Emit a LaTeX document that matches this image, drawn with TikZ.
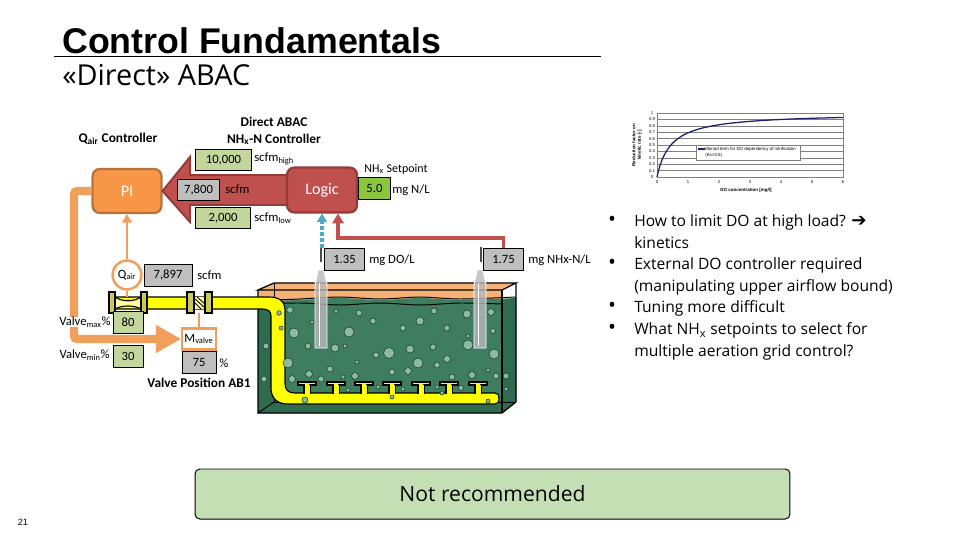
\documentclass[tikz,border=0pt]{standalone}
\usepackage{fontspec}
\setmainfont{Carlito}
\newfontfamily\titlefont{Liberation Sans}
\newfontfamily\bodyfont{Open Sans}
\newfontfamily\symfont{DejaVu Sans}
\usetikzlibrary{arrows.meta}

\definecolor{boxgreen}{HTML}{C3D69B}
\definecolor{boxgray}{HTML}{BFBFBF}
\definecolor{setgreen}{HTML}{8CC63F}
\definecolor{pibrown}{HTML}{B5733C}
\definecolor{piorange}{HTML}{F79646}
\definecolor{lineorange}{HTML}{F0A05A}
\definecolor{logicred}{HTML}{C0504D}
\definecolor{logicdark}{HTML}{933B39}
\definecolor{probeblue}{HTML}{4BACC6}
\definecolor{pipeyellow}{HTML}{FFFF00}
\definecolor{flangeolive}{HTML}{C9C95A}
\definecolor{airorange}{HTML}{F6B276}
\definecolor{waterdark}{HTML}{2F6B4F}
\definecolor{water}{HTML}{3F7D60}
\definecolor{bubble}{HTML}{8DB9A6}
\definecolor{notegreen}{HTML}{C5DFB5}
\definecolor{curvenavy}{HTML}{1F1F6B}

\tikzset{
  valuebox/.style={draw=black, line width=0.6pt, inner sep=0pt, minimum height=0.53cm, font=\fontsize{9}{11}\selectfont},
  greenbox/.style={valuebox, fill=boxgreen},
  graybox/.style={valuebox, fill=boxgray},
  unitlabel/.style={anchor=west, inner sep=0pt, font=\fontsize{9}{11}\selectfont},
  headlabel/.style={inner sep=0pt, font=\bfseries\fontsize{9.5}{11}\selectfont},
  ctrlbox/.style={rounded corners=0.18cm, line width=1.6pt, text=white, font=\fontsize{11.5}{13}\selectfont},
  bulletdot/.style={inner sep=0pt, font=\bodyfont\fontsize{15}{15}\selectfont},
  bullettext/.style={anchor=north west, inner sep=0pt, align=left, font=\bodyfont\fontsize{11.1}{15.3}\selectfont},
  pipeline/.style={draw=black, line width=0.8pt},
  chartsmall/.style={inner sep=0pt, font=\titlefont\fontsize{3}{3.6}\selectfont},
  tooth/.pic={
    \draw[fill=pipeyellow, line width=0.8pt] (-3,1) -- (-3,-8) -- (-9,-8) -- (-9,-11) -- (9,-11) -- (9,-8) -- (3,-8) -- (3,1);
    \fill[pipeyellow] (-2.5,2) rectangle (2.5,-8.5);
  }
}

\begin{document}
\begin{tikzpicture}[x=0.025cm, y=-0.025cm]
\useasboundingbox (0,0) rectangle (960,540);

% Title
\node[anchor=base west, inner sep=0pt, font=\titlefont\bfseries\fontsize{25.4}{28}\selectfont] (title) at (62,53) {Control Fundamentals};
\draw[line width=0.6pt] (54,56) -- (601,56);
\node[anchor=base west, inner sep=0pt, font=\bodyfont\fontsize{20.5}{23}\selectfont] (subtitle) at (62,85) {«Direct» ABAC};

% Tank
\fill[airorange] (258,290) -- (274,283) -- (516,283) -- (502,290) -- (502,305) -- (258,305) -- cycle;
\fill[water] (258,301) -- plot[smooth] coordinates {(258,301) (300,300) (340,298) (380,300) (420,298) (460,300) (516,298)} -- (516,402) -- (502,413) -- (258,413) -- cycle;
\fill[waterdark] (258,301) -- (274,300) -- (274,402) -- (258,413) -- cycle;
\fill[waterdark] (502,300) -- (516,298) -- (516,402) -- (502,413) -- cycle;
\fill[waterdark] (258,413) -- (274,402) -- (516,402) -- (502,413) -- cycle;
\draw[line width=0.7pt] plot[smooth] coordinates {(258,304) (300,303) (340,305) (380,303) (420,305) (460,303) (502,304)};
\draw[line width=0.7pt] plot[smooth] coordinates {(274,300) (300,299) (340,297) (380,299) (420,297) (460,299) (516,297)};
\draw[line width=0.9pt] (258,290) -- (274,283) -- (516,283) -- (502,290) -- cycle;
\draw[line width=0.9pt] (258,290) -- (258,413) -- (502,413) -- (516,402) -- (516,283);
\draw[line width=0.9pt] (502,290) -- (502,413);
\draw[line width=0.7pt] (274,283) -- (274,402) -- (516,402);
\draw[line width=0.7pt] (258,413) -- (274,402);

% Air pipe with grid
\draw[pipeline, fill=pipeyellow] (110,297) -- (270,297) .. controls (276,297) and (285,299) .. (285,310) -- (285,383) .. controls (285,390) and (288,393) .. (295,393) -- (495,393) .. controls (498,393) and (499,395) .. (499,398) .. controls (499,402) and (498,404) .. (495,404) -- (288,404) .. controls (277,404) and (271,398) .. (271,388) -- (271,316) .. controls (271,311) and (268,309) .. (262,309) -- (110,309) -- cycle;
\pic at (307,393) {tooth};
\pic at (336,393) {tooth};
\pic at (364,393) {tooth};
\pic at (392,393) {tooth};
\pic at (421,393) {tooth};
\pic at (449,393) {tooth};
\pic at (478,393) {tooth};

% Bubbles
\draw[fill=bubble, draw=waterdark!60!black, line width=0.4pt]
  (290,310) circle (3.3) (279,313) circle (2.3) (281,328) circle (2) (294,333) circle (5)
  (312,322) circle (2) (336,311) circle (2) (359,313) circle (3) (373,321) circle (3)
  (349,332) circle (5) (403,328) circle (3) (420,321) circle (4) (434,311) circle (3)
  (447,328) circle (3) (467,314) circle (4) (491,312) circle (3.5) (493,331) circle (2.5)
  (468,336) circle (2) (468,345) circle (5) (494,354) circle (5) (433,347) circle (3)
  (410,349) circle (4) (389,353) circle (5.5) (376,355) circle (3) (335,348) circle (4)
  (345,346) circle (2) (308,346) circle (3) (266,346) circle (3) (288,363) circle (5)
  (357,362) circle (2) (418,363) circle (5) (447,359) circle (3.5) (437,365) circle (3)
  (330,369) circle (3) (408,371) circle (3.5) (392,372) circle (3) (488,370) circle (2)
  (309,374) circle (3.5) (355,376) circle (3.5) (343,377) circle (2) (321,379) circle (3)
  (292,379) circle (3.5) (264,379) circle (3) (378,387) circle (2) (348,390) circle (2)
  (403,389) circle (2) (452,377) circle (3) (472,375) circle (3.5) (496,376) circle (3)
  (506,376) circle (3) (461,388) circle (2.5) (437,387) circle (2) (506,389) circle (2)
  (442,393) circle (2) (305,400) circle (3) (392,397) circle (2) (488,401) circle (2);

% Probes
\draw[draw=white, fill=gray!55, fill opacity=0.8, line width=0.7pt] (315,348) -- (315,285) -- (318,270) -- (324,270) -- (327,285) -- (327,348) -- cycle;
\draw[white, line width=0.7pt] (319,283) -- (319,346);
\fill[black!70] (320,248) rectangle (322,262);
\draw[draw=white, fill=gray!55, fill opacity=0.8, line width=0.7pt] (474,348) -- (474,285) -- (477,270) -- (483,270) -- (486,285) -- (486,348) -- cycle;
\draw[white, line width=0.7pt] (478,283) -- (478,346);
\fill[black!70] (480,247) rectangle (482,262);
\coordinate (probeA) at (322,248);

% Valves
\fill[pipeyellow!35] (115,297) .. controls (122,303) and (134,303) .. (141,297) -- (141,309) .. controls (134,304) and (122,304) .. (115,309) -- cycle;
\draw[line width=0.8pt] (115,297) .. controls (122,302) and (134,302) .. (141,297);
\draw[line width=0.8pt] (115,309) .. controls (122,305) and (134,305) .. (141,309);
\fill[pipeyellow!35] (194,297) rectangle (205,309);
\draw[line width=0.6pt] (194,298) -- (205,308) (197,297) -- (205,304) (194,302) -- (201,309);
\draw[draw=black, fill=flangeolive, line width=0.8pt] (109,292) rectangle (115,313);
\draw[draw=black, fill=flangeolive, line width=0.8pt] (141,292) rectangle (147,313);
\draw[draw=black, fill=flangeolive, line width=0.8pt] (187,292) rectangle (194,313);
\draw[draw=black, fill=flangeolive, line width=0.8pt] (205,292) rectangle (212,313);

% PI and Logic
\node[ctrlbox, draw=pibrown, fill=piorange, minimum width=1.72cm, minimum height=1.1cm] (pi) at (127,191) {PI};
\coordinate (logicedge) at (300,190);
\draw[draw=logicdark, fill=logicred, line width=1.4pt] (logicedge) ++(0,-15) -- (190,175) -- (190,157) -- (pi.east) -- (190,222) -- (190,205) -- (300,205) -- cycle;
\node[ctrlbox, draw=logicdark, fill=logicred, minimum width=1.75cm, minimum height=1.12cm] (logic) at (322,190) {Logic};

% Flow limits
\node[greenbox, minimum width=1.38cm] (flowhigh) at (223.5,160) {10,000};
\node[graybox, minimum width=1.07cm] (flownow) at (198.5,190) {7,800};
\node[greenbox, minimum width=1.38cm] (flowlow) at (223,218) {2,000};
\node[unitlabel] (unithigh) at (254,159) {scfm\textsubscript{high}};
\node[unitlabel] (unitnow) at (225,189) {scfm};
\node[unitlabel] (unitlow) at (254,218) {scfm\textsubscript{low}};
\node[headlabel] (headqair) at (118,139) {Q\textsubscript{air} Controller};
\node[headlabel, align=center, font=\bfseries\fontsize{9.5}{12}\selectfont] (headabac) at (274,131) {Direct ABAC\\NH\textsubscript{x}-N Controller};

% Setpoint
\node[headlabel, font=\fontsize{8.5}{10}\selectfont] (headset) at (396,169) {NH\textsubscript{x} Setpoint};
\node[valuebox, fill=setgreen, minimum width=0.78cm] (setpoint) at (374.5,188.5) {5.0};
\node[unitlabel] (unitset) at (392,190) {mg N/L};

% Air flow measurement and valve
\node[circle, draw=lineorange, fill=white, line width=1.8pt, minimum size=0.72cm, inner sep=0pt, font=\fontsize{9}{11}\selectfont] (qair) at (127,275) {Q\textsubscript{air}};
\draw[lineorange, line width=1.6pt, -{Triangle[length=6pt,width=7pt]}] (qair.north) -- (pi.south);
\draw[lineorange, line width=1.6pt] (qair.south) -- (127,297);
\node[graybox, minimum width=1.2cm, minimum height=0.55cm] (flowmeas) at (168,275) {7,897};
\node[unitlabel] (unitmeas) at (197,275) {scfm};
\node[greenbox, minimum width=0.75cm] (valvemax) at (128,322.5) {80};
\node[greenbox, minimum width=0.75cm] (valvemin) at (128,356.5) {30};
\node[draw=lineorange, fill=white, line width=1.6pt, minimum width=0.84cm, minimum height=0.52cm, inner sep=0pt, font=\fontsize{9}{11}\selectfont] (mvalve) at (199,339) {M\textsubscript{valve}};
\draw[lineorange, line width=1.6pt] (mvalve.north) -- (199,313);
\node[graybox, minimum width=0.85cm, minimum height=0.55cm] (valvepos) at (199,362) {75};
\node[unitlabel] (unitpos) at (219,363) {\%};
\node[headlabel] (headvalve) at (199,383) {Valve Position AB1};
\draw[lineorange, line width=5.7pt, rounded corners=2pt, -{Triangle[length=18pt,width=19pt]}] (pi.west) -- (74,191) -- (74,339) -- (mvalve.west);
\node[anchor=east, fill=white, inner sep=0pt, font=\fontsize{9}{11}\selectfont] (labelmax) at (111,322) {Valve\textsubscript{max}\%};
\node[anchor=east, inner sep=0pt, font=\fontsize{9}{11}\selectfont] (labelmin) at (110,355) {Valve\textsubscript{min}\%};

% Probe signals
\node[graybox, minimum width=0.98cm] (doval) at (344.5,259.5) {1.35};
\node[unitlabel] (unitdo) at (369,260) {mg DO/L};
\node[graybox, minimum width=0.98cm] (nhxval) at (503.5,259.5) {1.75};
\node[unitlabel] (unitnhx) at (528,260) {mg NHx-N/L};
\draw[probeblue, line width=2.2pt, dash pattern=on 3pt off 1.2pt, -{Triangle[length=6pt,width=7pt]}] (probeA) -- (probeA |- logic.south);
\coordinate (bendred) at (338,238);
\draw[logicred, line width=2.2pt, -{Triangle[length=7pt,width=8pt]}] (nhxval.north) |- (bendred) -- (bendred |- logic.south);

% Chart
\draw[gray, line width=0.4pt] (657,113) rectangle (843,177);
\draw[gray, line width=0.4pt] (657,119.4) -- (843,119.4) (657,125.8) -- (843,125.8) (657,132.2) -- (843,132.2) (657,138.6) -- (843,138.6) (657,145) -- (843,145) (657,151.4) -- (843,151.4) (657,157.8) -- (843,157.8) (657,164.2) -- (843,164.2) (657,170.6) -- (843,170.6);
\draw[curvenavy, line width=0.9pt] plot[domain=0:6, samples=70, smooth] ({657+31*\x*\x/6},{177-64*(\x*\x/6)/(\x*\x/6+0.45)});
\draw[draw=gray, fill=white, line width=0.4pt] (696,145) rectangle (800,160);
\draw[curvenavy, line width=0.9pt] (698,149) -- (705,149);
\node[chartsmall, anchor=west, align=left, font=\titlefont\fontsize{3.15}{4.2}\selectfont] (legend) at (705,152) {Monod term for DO dependency of nitrification\\(Ks=0.5)};
\node[chartsmall, rotate=90, align=center, font=\titlefont\bfseries\fontsize{3.2}{4}\selectfont] (charty) at (637,145) {Reduction factor on\\kinetic rate [-]};
\node[chartsmall, font=\titlefont\bfseries\fontsize{3.2}{4}\selectfont] (chartx) at (746,190) {DO concentration [mg/l]};
\node[chartsmall] (ya) at (652,113) {1};
\node[chartsmall] (yb) at (652,119.4) {0.9};
\node[chartsmall] (yc) at (652,125.8) {0.8};
\node[chartsmall] (yd) at (652,132.2) {0.7};
\node[chartsmall] (ye) at (652,138.6) {0.6};
\node[chartsmall] (yf) at (652,145) {0.5};
\node[chartsmall] (yg) at (652,151.4) {0.4};
\node[chartsmall] (yh) at (652,157.8) {0.3};
\node[chartsmall] (yi) at (652,164.2) {0.2};
\node[chartsmall] (yj) at (652,170.6) {0.1};
\node[chartsmall] (yk) at (652,177) {0};
\node[chartsmall] (xa) at (657,182) {0};
\node[chartsmall] (xb) at (688,182) {1};
\node[chartsmall] (xc) at (719,182) {2};
\node[chartsmall] (xd) at (750,182) {3};
\node[chartsmall] (xe) at (781,182) {4};
\node[chartsmall] (xf) at (812,182) {5};
\node[chartsmall] (xg) at (843,182) {6};

% Bullets
\node[bulletdot] (dotA) at (612,221) {•};
\node[bullettext] (itemA) at (634,214.5) {How to limit DO at high load? {\symfont\fontsize{13}{15.3}\selectfont ➔}\\kinetics};
\node[bulletdot] (dotB) at (612,264) {•};
\node[bullettext] (itemB) at (634,257.5) {External DO controller required\\(manipulating upper airflow bound)};
\node[bulletdot] (dotC) at (612,307) {•};
\node[bullettext] (itemC) at (634,300.5) {Tuning more difficult};
\node[bulletdot] (dotD) at (612,329) {•};
\node[bullettext] (itemD) at (634,322.5) {What NH\textsubscript{x} setpoints to select for\\multiple aeration grid control?};

% Note and page number
\node[draw=black, fill=notegreen, rounded corners=0.12cm, line width=0.7pt, minimum width=14.87cm, minimum height=1.25cm, inner sep=0pt, font=\bodyfont\fontsize{15}{18}\selectfont] (note) at (492.5,494) {Not recommended};
\node[inner sep=0pt, font=\titlefont\fontsize{6.5}{8}\selectfont] (pagenum) at (23,522) {21};

\end{tikzpicture}
\end{document}
